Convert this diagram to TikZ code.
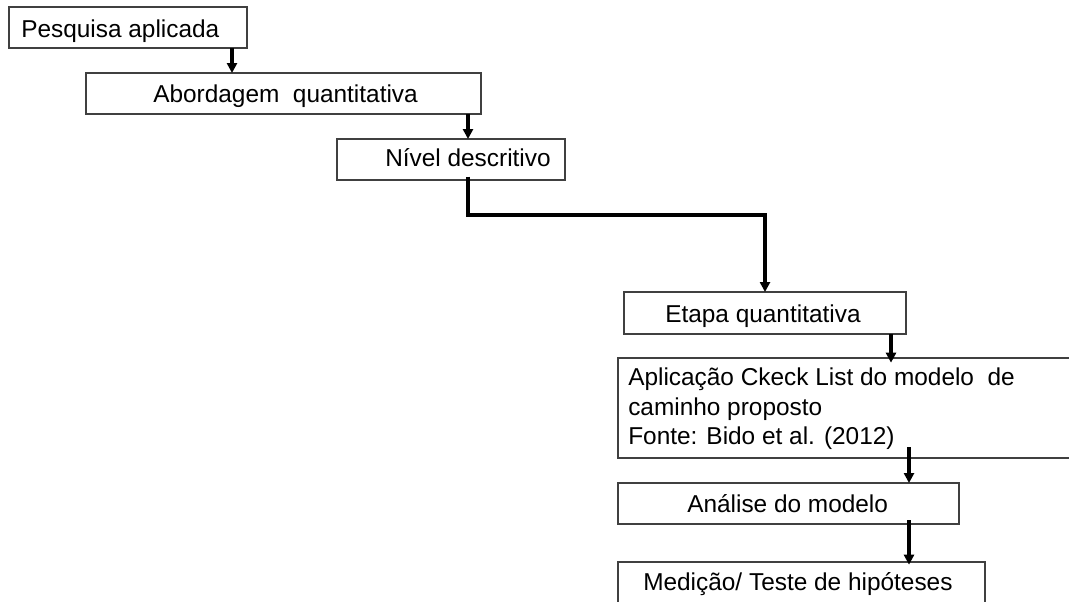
\documentclass[tikz,border=0pt]{standalone}
\usepackage{fontspec}
\setmainfont{Liberation Sans}
\usetikzlibrary{arrows.meta,fit}
\definecolor{edge}{RGB}{64,64,64}
\begin{document}
\begin{tikzpicture}[x=0.75pt,y=-0.75pt,
  box/.style={draw=edge,line width=0.9pt,rectangle,inner sep=0pt,outer sep=0pt},
  lbl/.style={font=\fontsize{18.3}{22}\selectfont,inner sep=0pt,anchor=base west},
  flow/.style={line width=2.3pt,-{Triangle[width=7.5pt,length=7.5pt]}}]
\useasboundingbox (0,0) rectangle (1069,601);
\clip (0,0) rectangle (1069,601);

% boxes
\node[box,fit={(9,7) (247,48)}] (b1) {};
\node[box,fit={(86,73) (481,114)}] (b2) {};
\node[box,fit={(337,139) (565,180)}] (b3) {};
\node[box,fit={(624,292) (906,334)}] (b4) {};
\node[box,fit={(618,358) (1080,458)}] (b5) {};
\node[box,fit={(618,483) (959,524)}] (b6) {};
\node[box,fit={(618,562) (985,612)}] (b7) {};

% labels
\node[lbl] (t1) at (21,37) {Pesquisa aplicada};
\node[lbl] (t2) at (153,102) {Abordagem~ quantitativa};
\node[lbl] (t3) at (385,166) {Nível descritivo};
\node[lbl] (t4) at (665,322) {Etapa quantitativa};
\node[lbl] (t5a) at (628,385) {Aplicação Ckeck List do modelo~ de};
\node[lbl] (t5b) at (628,415) {caminho proposto};
\node[lbl] (t5c) at (628,444) {Fonte: Bido et al. (2012)};
\node[lbl] (t6) at (687,512) {Análise do modelo};
\node[lbl] (t7) at (643,590) {Medição/ Teste de hipóteses};

% connectors
\draw[flow] (b1.south -| 232,0) -- (b2.north -| 232,0);
\draw[flow] (b2.south -| 468,0) -- (b3.north -| 468,0);
\draw[flow,shorten <=-2.5pt] (b3.south -| 468,0) |- (765,215) -- (b4.north -| 765,0);
\draw[flow,shorten >=-3.5pt] (b4.south -| 891,0) -- (b5.north -| 891,0);
\draw[flow,shorten <=-8pt] (b5.south -| 909,0) -- (b6.north -| 909,0);
\draw[flow,shorten <=-3pt,shorten >=-2pt] (b6.south -| 909,0) -- (b7.north -| 909,0);
\end{tikzpicture}
\end{document}
